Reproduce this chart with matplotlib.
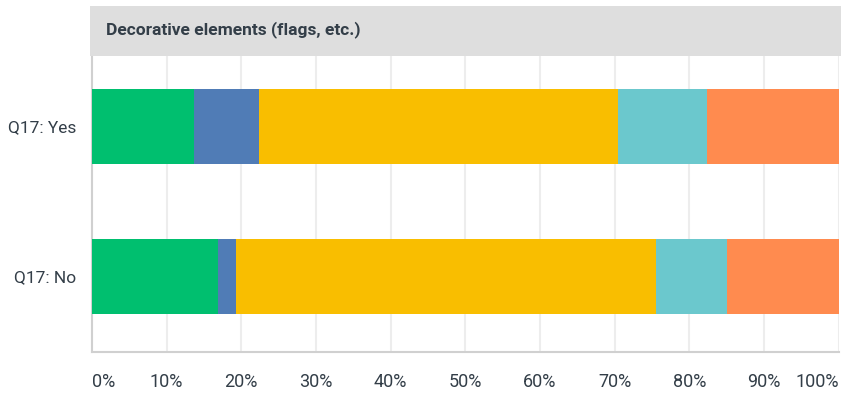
import matplotlib
matplotlib.use("Agg")
import matplotlib.pyplot as plt
from matplotlib.patches import Rectangle

plt.rcParams['font.family'] = ['Roboto', 'DejaVu Sans']

title = "Decorative elements (flags, etc.)"
categories = ["Q17: Yes", "Q17: No"]
colors = ["#00BF6F", "#507CB6", "#F9BE00", "#6BC8CD", "#FF8B4F"]
# percentage share of each answer option per group
series = [
    [13.7, 16.9],
    [8.7, 2.4],
    [48.0, 56.2],
    [12.0, 9.6],
    [17.6, 14.9],
]
ticks = list(range(0, 101, 10))
tick_labels = [f"{t}%" for t in ticks]

W, H = 843, 394
fig = plt.figure(figsize=(W / 100, H / 100), dpi=100)
fig.patch.set_facecolor("white")

# header band
fig.patches.append(Rectangle((90 / W, 1 - 56 / H), 751 / W, 50 / H,
                             transform=fig.transFigure, facecolor="#DEDEDE",
                             edgecolor="none", zorder=0))
fig.text(106 / W, 1 - 30 / H, title, fontsize=12.5, fontweight="bold",
         color="#333E48", va="center", ha="left")

ax = fig.add_axes([91.8 / W, 42 / H, 747 / W, 296 / H])
ypos = list(range(len(categories)))
left = [0.0] * len(categories)
for vals, c in zip(series, colors):
    ax.barh(ypos, vals, left=left, height=0.5, color=c, edgecolor="none", zorder=3)
    left = [l + v for l, v in zip(left, vals)]

ax.set_xlim(0, 100)
ax.set_ylim(1.504, -0.469)
ax.set_xticks(ticks)
ax.set_xticklabels(tick_labels, fontsize=13, color="#333E48")
labels = ax.get_xticklabels()
labels[0].set_ha("left")
labels[-1].set_ha("right")
ax.set_yticks(ypos)
ax.set_yticklabels(categories, fontsize=12.5, color="#333E48")
ax.tick_params(axis="both", length=0)
ax.tick_params(axis="x", pad=15)
ax.tick_params(axis="y", pad=11)
ax.grid(axis="x", color="#EDEDED", linewidth=1.5, zorder=0)
for s in ["top", "right"]:
    ax.spines[s].set_visible(False)
ax.spines["left"].set_color("#D0D0D0")
ax.spines["left"].set_linewidth(1.5)
ax.spines["bottom"].set_color("#D0D0D0")
ax.spines["bottom"].set_linewidth(1.5)

fig.savefig("out.png", dpi=100)
